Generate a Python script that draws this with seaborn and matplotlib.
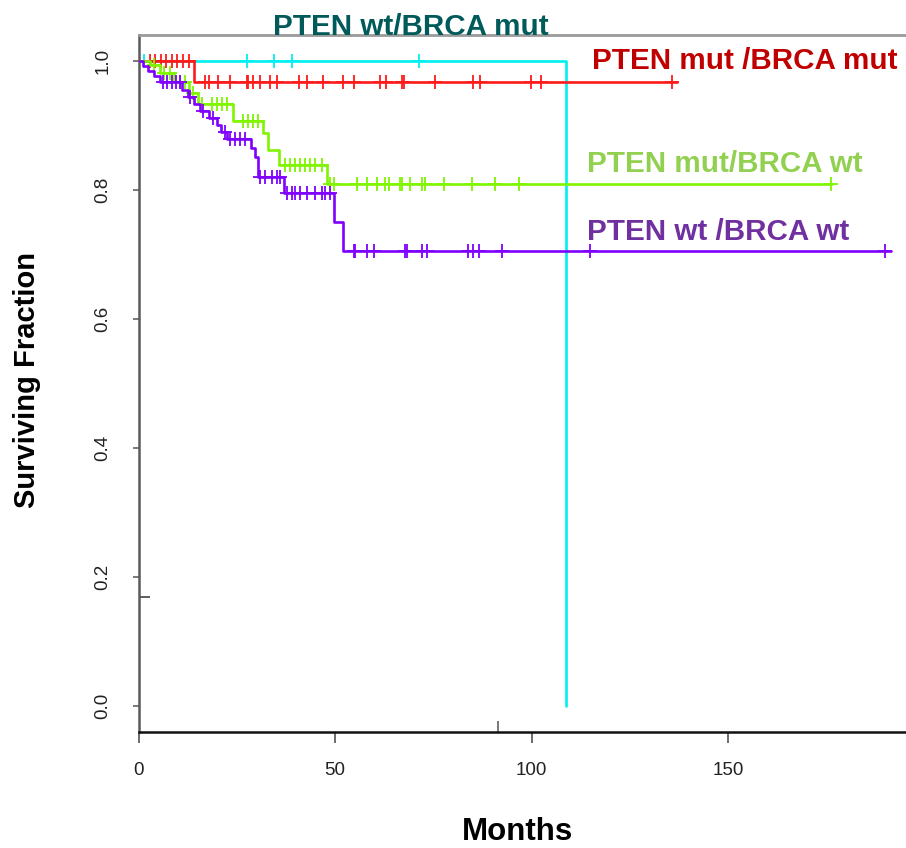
import numpy as np
import pandas as pd
import matplotlib
matplotlib.use("Agg")
import matplotlib.pyplot as plt
import seaborn as sns

# ---------------- data ----------------
group_names = ["PTEN wt/BRCA mut", "PTEN mut /BRCA mut", "PTEN mut/BRCA wt", "PTEN wt /BRCA wt"]

# PTEN wt / BRCA mut (cyan)
cyan_times = [0.0, 108.7]
cyan_surv = [1.0, 0.0]
cyan_end = 108.7
cyan_censor = [1.5, 27.6, 34.5, 39.1, 71.4]

# PTEN mut / BRCA mut (red)
red_times = [0.0, 14.1]
red_surv = [1.0, 0.967]
red_end = 137.0
red_censor = [3.0, 4.3, 5.6, 7.0, 8.5, 9.8, 11.2, 12.8,
              17.0, 17.8, 20.3, 23.3, 27.5, 27.8, 29.2, 30.9, 33.5, 35.2,
              40.7, 42.9, 47.0, 51.9, 54.9, 61.5, 63.0, 67.0, 67.5, 75.5,
              85.1, 86.9, 99.8, 102.5, 135.7]

# PTEN mut / BRCA wt (green)
green_times = [0.0, 3.0, 5.5, 9.0, 12.8, 15.0, 24.0, 31.7, 33.0, 35.6, 48.0]
green_surv = [1.0, 0.993, 0.981, 0.966, 0.950, 0.933, 0.907, 0.888, 0.862, 0.838, 0.808]
green_end = 176.5
green_censor = [4.0, 6.5, 8.0, 10.5, 11.8, 13.8, 16.2,
                18.7, 20.0, 21.3, 22.5, 26.6, 27.9, 29.2, 30.5,
                37.3, 38.6, 39.8, 41.1, 42.4, 43.7, 44.9, 46.6,
                48.6, 49.6, 55.5, 58.0, 60.6, 62.8, 63.6, 66.6, 67.0, 69.1,
                72.1, 72.9, 77.6, 84.8, 90.7, 96.9, 176.2]

# PTEN wt / BRCA wt (purple)
purple_times = [0.0, 1.0, 2.5, 4.0, 5.5, 11.0, 12.5, 14.0, 15.5, 18.0, 20.0, 21.0,
                22.5, 28.5, 29.5, 30.5, 37.0, 49.7, 52.0]
purple_surv = [1.0, 0.992, 0.984, 0.976, 0.966, 0.955, 0.944, 0.933, 0.922, 0.911, 0.900, 0.889,
               0.878, 0.864, 0.850, 0.820, 0.794, 0.750, 0.705]
purple_end = 191.5
purple_censor = [6.2, 7.3, 8.4, 9.5, 10.5, 13.2, 16.5, 19.0,
                 22.0, 23.3, 24.6, 25.8, 27.1, 30.9, 32.2, 33.9, 35.2, 36.0,
                 37.7, 39.0, 39.8, 41.1, 42.8, 44.9, 46.6, 47.5, 48.8,
                 54.7, 55.1, 58.1, 59.8, 67.8, 68.4, 72.1, 73.4, 83.9, 85.2, 86.7,
                 92.4, 114.9, 190.0]

x_ticks = [0, 50, 100, 150]
y_ticks = [0.0, 0.2, 0.4, 0.6, 0.8, 1.0]
y_tick_labels = ["0.0", "0.2", "0.4", "0.6", "0.8", "1.0"]

line_colors = ["#00F0F0", "#FF1A1A", "#7FF500", "#7F00FF"]
label_colors = ["#005A5A", "#C00000", "#92D050", "#7030A0"]

# ---------------- figure ----------------
sns.set_style("white")
plt.rcParams["font.family"] = ["Liberation Sans", "DejaVu Sans"]

W, H = 906, 848
fig = plt.figure(figsize=(W / 100, H / 100), dpi=100)
ax_left, ax_bottom = 138.6 / W, (H - 731.7) / H
ax_top = (H - 34.7) / H
ax = fig.add_axes([ax_left, ax_bottom, 1.0 - ax_left, ax_top - ax_bottom])


def km_frame(times, surv, end):
    xs = list(times) + [end]
    ys = list(surv) + [surv[-1]]
    return pd.DataFrame({"Months": xs, "Surv": ys})


def censor_frame(times, surv, cens):
    t = np.asarray(times)
    s = np.asarray(surv)
    idx = np.searchsorted(t, np.asarray(cens), side="right") - 1
    return pd.DataFrame({"Months": cens, "Surv": s[idx]})


series = [
    (cyan_times, cyan_surv, cyan_end, cyan_censor, line_colors[0]),
    (red_times, red_surv, red_end, red_censor, line_colors[1]),
    (green_times, green_surv, green_end, green_censor, line_colors[2]),
    (purple_times, purple_surv, purple_end, purple_censor, line_colors[3]),
]
draw_order = [1, 2, 3, 0]
for i in draw_order:
    t, s, e, c, col = series[i]
    sns.lineplot(data=km_frame(t, s, e), x="Months", y="Surv", drawstyle="steps-post",
                 estimator=None, sort=False, color=col, linewidth=1.9, ax=ax, zorder=3 + i)
    sns.scatterplot(data=censor_frame(t, s, c), x="Months", y="Surv", marker="+",
                    s=110, color=col, linewidth=1.3, ax=ax, zorder=3 + i)

ax.set_xlim(0, (W - 138.6) / 3.93)
ax.set_ylim(-0.04, 1.04)

ax.set_xticks(x_ticks)
ax.set_xticklabels([str(v) for v in x_ticks])
ax.set_yticks(y_ticks)
ax.set_yticklabels(y_tick_labels, rotation=90, va="center")
# stray inward marks present in the reference
ax.set_xticks([91.4], minor=True)
ax.set_yticks([0.169], minor=True)
ax.tick_params(bottom=True, left=True, top=False, right=False, which="both")
ax.tick_params(axis="x", which="minor", direction="in", length=8, width=1.1, color="#555555")
ax.tick_params(axis="y", which="minor", direction="in", length=8, width=1.1, color="#333333")

ax.tick_params(axis="x", which="major", direction="out", length=8, width=1.1, color="#444444",
               labelsize=13.5, labelcolor="#222222", pad=14)
ax.tick_params(axis="y", which="major", direction="out", length=4.5, width=1.1, color="#555555",
               labelsize=13.5, labelcolor="#222222", pad=15)

ax.spines["right"].set_visible(False)
ax.spines["top"].set_color("#9A9A9A")
ax.spines["top"].set_linewidth(2.0)
ax.spines["left"].set_color("#5A5A5A")
ax.spines["left"].set_linewidth(1.8)
ax.spines["bottom"].set_color("#111111")
ax.spines["bottom"].set_linewidth(1.8)
ax.set_xlabel("")
ax.set_ylabel("")

# axis titles
fig.text(517 / W, 1 - 840 / H, "Months", ha="center", va="baseline",
         fontsize=22.5, fontweight="bold", color="black")
fig.text(27 / W, 1 - 380 / H, "Surviving Fraction", ha="center", va="center", rotation=90,
         fontsize=21, fontweight="bold", color="black")

# group labels
label_pos = [(273, 35), (592, 69), (587, 172.5), (587, 240)]
for name, (px, py), col in zip(group_names, label_pos, label_colors):
    fig.text(px / W, 1 - py / H, name, ha="left", va="baseline",
             fontsize=21.3, fontweight="bold", color=col)

fig.savefig("out.png", dpi=100)
